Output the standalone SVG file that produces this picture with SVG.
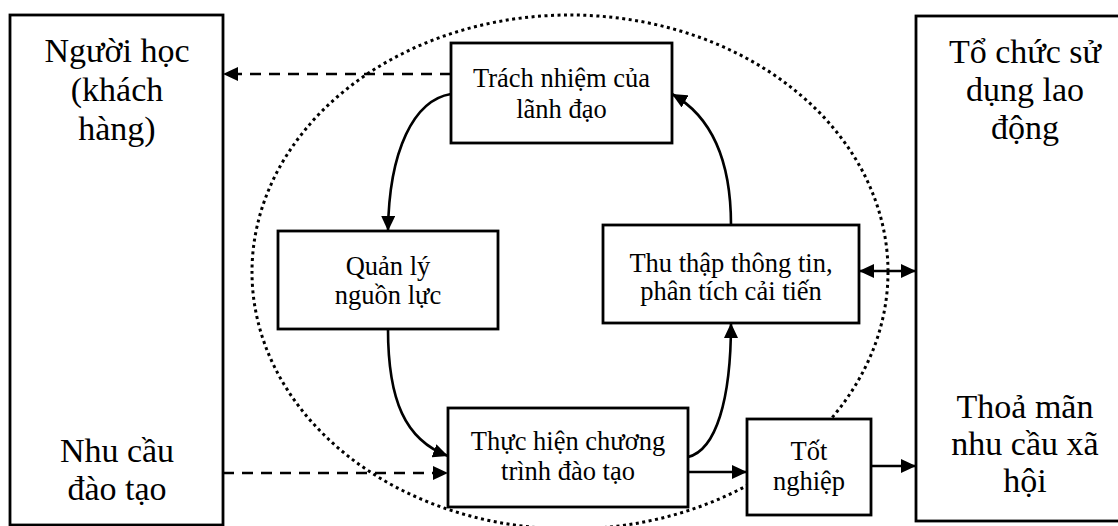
<svg xmlns="http://www.w3.org/2000/svg" width="1118" height="526" viewBox="0 0 1118 526">
  <style>
    .box { fill: #ffffff; stroke: #000000; stroke-width: 2.8; }
    .big { font-size: 34px; fill: #000000; text-anchor: middle; }
    .small { font-size: 26.5px; fill: #000000; text-anchor: middle; }
    .line { fill: none; stroke: #000000; stroke-width: 2.6; }
    .dash { stroke-dasharray: 11 8; }
    .ring { fill: none; stroke: #000000; stroke-width: 3; stroke-dasharray: 3 3.5; }
  </style>
  <defs>
    <marker id="arrow" markerUnits="userSpaceOnUse" markerWidth="15" markerHeight="14" refX="15" refY="7" orient="auto-start-reverse" viewBox="0 0 15 14">
      <path d="M0,0 L15,7 L0,14 Z" fill="#000000"/>
    </marker>
  </defs>

  <rect width="1118" height="526" fill="#ffffff"/>

  <!-- dotted boundary around the internal cycle -->
  <ellipse class="ring" cx="570" cy="272" rx="318" ry="257"/>

  <!-- connectors -->
  <g id="connectors">
    <path class="line dash" d="M451,74 L223,74" marker-end="url(#arrow)"/>
    <path class="line dash" d="M223,473 L448,473" marker-end="url(#arrow)"/>
    <path class="line" d="M451,94 C414,100 389,150 388,231" marker-end="url(#arrow)"/>
    <path class="line" d="M388,329 C388,400 405,440 448,456" marker-end="url(#arrow)"/>
    <path class="line" d="M688,457 C716,450 731,400 731,323" marker-end="url(#arrow)"/>
    <path class="line" d="M731,225 C731,160 711,116 672,94" marker-end="url(#arrow)"/>
    <path class="line" d="M688,472 L747,472" marker-end="url(#arrow)"/>
    <path class="line" d="M871,466 L916,466" marker-end="url(#arrow)"/>
    <path class="line" d="M859,271 L916,271" marker-start="url(#arrow)" marker-end="url(#arrow)"/>
  </g>

  <g font-family="Liberation Serif, Times New Roman, DejaVu Serif, serif">
    <!-- learners / training needs -->
    <g id="node-learner">
      <rect class="box" x="10" y="15" width="213" height="510"/>
      <text class="big" x="117" y="62">Người học</text>
      <text class="big" x="117" y="101">(khách</text>
      <text class="big" x="117" y="140">hàng)</text>
      <text class="big" x="117" y="462">Nhu cầu</text>
      <text class="big" x="117" y="500">đào tạo</text>
    </g>

    <!-- employers / social needs -->
    <g id="node-employer">
      <rect class="box" x="916" y="16" width="218" height="505"/>
      <text class="big" x="1025" y="63">Tổ chức sử</text>
      <text class="big" x="1025" y="101">dụng lao</text>
      <text class="big" x="1025" y="139">động</text>
      <text class="big" x="1025" y="418">Thoả mãn</text>
      <text class="big" x="1025" y="455">nhu cầu xã</text>
      <text class="big" x="1025" y="492">hội</text>
    </g>

    <g id="node-leadership">
      <rect class="box" x="451" y="43" width="221" height="100"/>
      <text class="small" x="561.5" y="87">Trách nhiệm của</text>
      <text class="small" x="561.5" y="118">lãnh đạo</text>
    </g>

    <g id="node-resources">
      <rect class="box" x="278" y="231" width="220" height="98"/>
      <text class="small" x="388" y="275">Quản lý</text>
      <text class="small" x="388" y="304">nguồn lực</text>
    </g>

    <g id="node-feedback">
      <rect class="box" x="603" y="225" width="256" height="98"/>
      <text class="small" x="731" y="272">Thu thập thông tin,</text>
      <text class="small" x="731" y="300">phân tích cải tiến</text>
    </g>

    <g id="node-program">
      <rect class="box" x="448" y="408" width="240" height="99"/>
      <text class="small" x="568" y="450">Thực hiện chương</text>
      <text class="small" x="568" y="480">trình đào tạo</text>
    </g>

    <g id="node-graduate">
      <rect class="box" x="747" y="419" width="124" height="96"/>
      <text class="small" x="809" y="460">Tốt</text>
      <text class="small" x="809" y="490">nghiệp</text>
    </g>
  </g>
</svg>
